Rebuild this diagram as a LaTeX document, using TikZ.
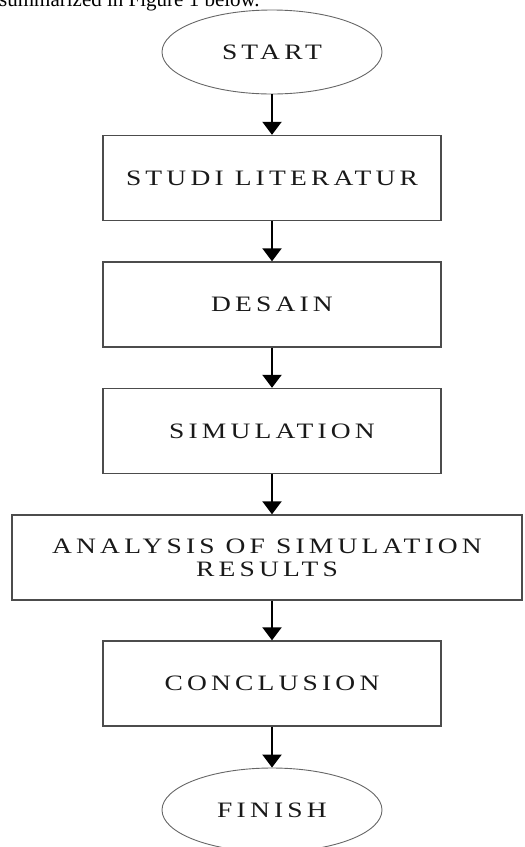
\documentclass[tikz,border=0pt]{standalone}
\usepackage{fontspec}
\setmainfont{Liberation Serif}
\newfontfamily\flowfont[FakeStretch=1.25,LetterSpace=19]{Liberation Serif}
\usetikzlibrary{shapes.geometric,arrows.meta}
\begin{document}
\begin{tikzpicture}[x=1pt,y=-1pt,
        term/.style={draw=black!60,line width=0.9pt,ellipse,minimum width=220pt,minimum height=84pt,inner sep=0pt},
        proc/.style={draw=black!70,line width=1.4pt,rectangle,minimum width=338pt,minimum height=85pt,inner sep=0pt},
        lbl/.style={font=\flowfont\fontsize{22}{23}\selectfont,text=black!90,align=center},
        flow/.style={line width=2.2pt,-{Triangle[width=19pt,length=13pt]}}]
    \clip (0,0) rectangle (525,847);
    %% caption line cut by the top edge
    \node[anchor=base west,inner sep=0pt,font=\fontsize{21}{25}\selectfont] (cap) at (-1,6) {summarized in Figure 1 below.};
    %% start and finish
    \node[term,lbl] (start) at (272,52) {START};
    \node[term,lbl] (finish) at (272,810) {FINISH};
    %% steps
    \node[proc,lbl] (lit) at (272,178) {STUDI LITERATUR};
    \node[proc,lbl] (desain) at (272,304.5) {DESAIN};
    \node[proc,lbl] (sim) at (272,431) {SIMULATION};
    \node[proc,lbl,minimum width=510pt] (ana) at (267,557.5) {ANALYSIS OF SIMULATION\\RESULTS};
    \node[proc,lbl] (conc) at (272,683.5) {CONCLUSION};
    %% arrows
    \draw[flow] (start.south) -- (start.south |- lit.north);
    \draw[flow] (lit.south) -- (lit.south |- desain.north);
    \draw[flow] (desain.south) -- (desain.south |- sim.north);
    \draw[flow] (sim.south) -- (sim.south |- ana.north);
    \draw[flow] (conc.north |- ana.south) -- (conc.north);
    \draw[flow] (conc.south) -- (conc.south |- finish.north);
\end{tikzpicture}
\end{document}
